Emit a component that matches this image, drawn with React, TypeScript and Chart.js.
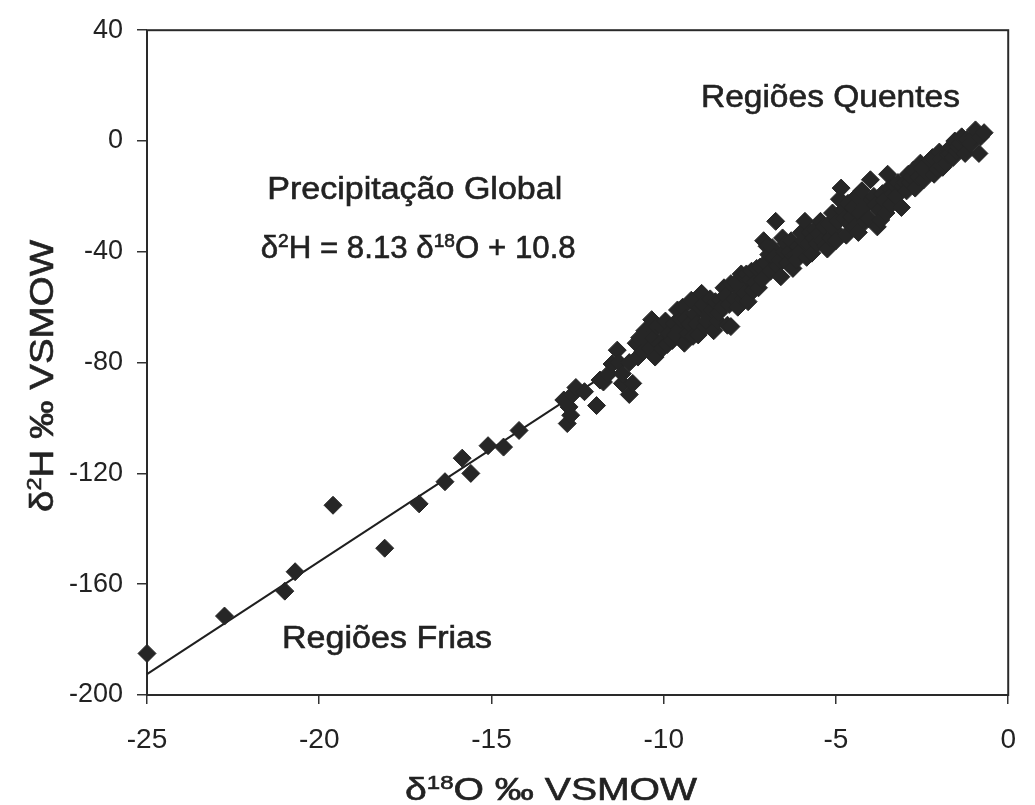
import React, { useEffect, useRef } from "react";
import { Chart, registerables } from "chart.js";

Chart.register(...registerables);

// ---- axis definitions ----
const X_MIN = -25;
const X_MAX = 0;
const X_STEP = 5;
const Y_MIN = -200;
const Y_MAX = 40;
const Y_STEP = 40;

// ---- regression line (from the chart's equation) ----
const LINE_SLOPE = 8.13;
const LINE_INTERCEPT = 10.8;
const LINE_X = [-25, -1];

// ---- data: [δ18O, δ2H] pairs ----
const COLD_POINTS: number[][] = [
  [-25, -185], [-22.75, -171.5], [-21.0, -162.5], [-20.7, -155.5], [-19.6, -131.5],
  [-18.1, -147], [-17.1, -131], [-16.35, -123], [-15.85, -114.5], [-15.6, -120],
  [-15.1, -110], [-14.65, -110.5], [-14.2, -104.5],
];

const MID_POINTS: number[][] = [
  [-12.9, -93.5], [-12.8, -102], [-12.7, -99], [-12.75, -96], [-12.65, -91.5], [-12.55, -89],
  [-12.3, -90.5], [-11.95, -95.5], [-11.75, -87], [-11.85, -86.3], [-11.6, -84], [-11.5, -80.5],
  [-11.35, -75.5], [-11.3, -80], [-11.2, -87.5], [-11.2, -84], [-11.0, -91.5], [-11.0, -80],
  [-10.9, -87.5], [-10.8, -73], [-10.75, -78], [-10.7, -71], [-10.6, -76], [-10.55, -68.5],
  [-10.5, -72], [-10.4, -75], [-10.35, -64.5], [-10.3, -71], [-10.25, -78], [-10.2, -67],
  [-10.1, -73], [-10.05, -75], [-10.0, -68], [-9.95, -65], [-9.9, -73.5], [-9.85, -69.5],
  [-9.75, -72], [-9.7, -66], [-9.65, -70], [-9.6, -61], [-9.55, -68], [-9.5, -64.5],
  [-9.45, -60], [-9.4, -73], [-9.35, -64], [-9.3, -69.5], [-9.25, -66], [-9.2, -57.5],
  [-9.15, -70.5], [-9.1, -62.5], [-9.05, -66], [-9.0, -70],
];

const WARM_POINTS: number[][] = [
  [-8.95, -60], [-8.9, -55], [-8.85, -59], [-8.8, -67], [-8.75, -65], [-8.7, -63],
  [-8.65, -57], [-8.6, -61], [-8.55, -68.5], [-8.5, -58], [-8.45, -65], [-8.4, -62],
  [-8.35, -57.5], [-8.3, -60], [-8.25, -53], [-8.2, -56], [-8.15, -66.5], [-8.1, -59],
  [-8.05, -51.5], [-8.05, -67], [-7.95, -57], [-7.9, -51], [-7.85, -60], [-7.8, -52.5],
  [-7.75, -48], [-7.7, -57], [-7.65, -55], [-7.6, -48], [-7.55, -58], [-7.5, -50],
  [-7.45, -47], [-7.4, -54], [-7.35, -51], [-7.3, -46], [-7.25, -53], [-7.2, -45.5],
  [-7.15, -50], [-7.1, -36], [-7.05, -44], [-7.0, -38], [-6.95, -41], [-6.9, -47],
  [-6.85, -38.5], [-6.8, -42], [-6.75, -29], [-6.7, -45], [-6.65, -43], [-6.6, -49],
  [-6.55, -35], [-6.5, -40], [-6.45, -37], [-6.4, -44], [-6.35, -40], [-6.3, -36],
  [-6.25, -46], [-6.2, -41], [-6.15, -43], [-6.1, -38], [-6.05, -40], [-6.0, -33],
  [-5.95, -36], [-5.9, -29], [-5.85, -42], [-5.8, -37], [-5.75, -33], [-5.7, -40.5],
  [-5.65, -35], [-5.6, -32], [-5.55, -37], [-5.5, -33.5], [-5.45, -29], [-5.4, -36],
  [-5.35, -31], [-5.3, -38], [-5.25, -39], [-5.2, -30], [-5.15, -35], [-5.1, -26],
  [-5.05, -32], [-5.0, -36],
];

const HOT_POINTS: number[][] = [
  [-4.95, -29], [-4.9, -21], [-4.85, -17], [-4.8, -25], [-4.75, -28], [-4.7, -34],
  [-4.65, -22.5], [-4.6, -30], [-4.55, -27.5], [-4.5, -24], [-4.45, -31], [-4.4, -20],
  [-4.35, -33], [-4.3, -26], [-4.25, -18], [-4.2, -24], [-4.15, -29], [-4.1, -22],
  [-4.05, -28], [-4.0, -14], [-3.95, -21], [-3.9, -20], [-3.85, -23], [-3.8, -31],
  [-3.75, -25], [-3.7, -28.5], [-3.65, -19], [-3.6, -21.5], [-3.55, -26], [-3.5, -12],
  [-3.45, -17], [-3.4, -23], [-3.35, -19], [-3.3, -16], [-3.25, -20], [-3.2, -15],
  [-3.1, -24], [-3.05, -16.5], [-3.0, -15], [-2.95, -18], [-2.9, -12], [-2.85, -15],
  [-2.8, -13], [-2.75, -10.5], [-2.7, -17], [-2.6, -13], [-2.55, -8], [-2.5, -10],
  [-2.45, -14], [-2.4, -11], [-2.3, -9], [-2.25, -7], [-2.2, -6], [-2.15, -12],
  [-2.05, -10], [-2.0, -4], [-1.95, -6.5], [-1.9, -9.5], [-1.8, -8], [-1.75, -5],
  [-1.7, -4.5], [-1.65, -2], [-1.6, -6], [-1.55, 0], [-1.5, -3.5], [-1.45, -2],
  [-1.4, -1], [-1.35, 1.5], [-1.25, -4.5], [-1.2, 0.5], [-1.1, -1], [-1.0, 1.5],
  [-0.95, 4], [-0.85, -4.5], [-0.8, 1.5], [-0.7, 3],
];

// ---- texts ----
const LABEL_WARM = "Regiões Quentes";
const LABEL_COLD = "Regiões Frias";
const LABEL_GLOBAL = "Precipitação Global";

const FONT = '"Liberation Sans", Arial, Helvetica, sans-serif';
const INK = "#222222";

type Part = { t: string; sup?: boolean };

function drawRich(
  ctx: CanvasRenderingContext2D,
  parts: Part[],
  size: number,
  targetWidth: number
) {
  const supSize = Math.round(size * 0.62);
  let natural = 0;
  for (const p of parts) {
    ctx.font = `${p.sup ? supSize : size}px ${FONT}`;
    natural += ctx.measureText(p.t).width;
  }
  const sx = targetWidth / natural;
  ctx.scale(sx, 1);
  ctx.strokeStyle = INK;
  ctx.lineWidth = 0.6;
  let x = 0;
  for (const p of parts) {
    ctx.font = `${p.sup ? supSize : size}px ${FONT}`;
    const y = p.sup ? -size * 0.36 : 0;
    ctx.fillText(p.t, x, y);
    ctx.strokeText(p.t, x, y);
    x += ctx.measureText(p.t).width;
  }
}

const textPlugin = {
  id: "isoText",
  beforeDatasetsDraw(chart: any) {
    const { ctx, chartArea } = chart;
    ctx.save();
    ctx.strokeStyle = "#2a2a2a";
    ctx.lineWidth = 2;
    ctx.strokeRect(
      chartArea.left,
      chartArea.top,
      chartArea.right - chartArea.left,
      chartArea.bottom - chartArea.top
    );
    ctx.restore();
  },
  afterDraw(chart: any) {
    const { ctx } = chart;
    const xs = chart.scales.x;
    const ys = chart.scales.y;
    const put = (dx: number, dy: number, parts: Part[], size: number, width: number) => {
      ctx.save();
      ctx.fillStyle = INK;
      ctx.textBaseline = "alphabetic";
      ctx.textAlign = "left";
      ctx.translate(xs.getPixelForValue(dx), ys.getPixelForValue(dy));
      drawRich(ctx, parts, size, width);
      ctx.restore();
    };
    put(-8.92, 12.2, [{ t: LABEL_WARM }], 31, 259);
    put(-21.51, -20.8, [{ t: LABEL_GLOBAL }], 31, 295);
    put(
      -21.7,
      -42.4,
      [
        { t: "δ" },
        { t: "2", sup: true },
        { t: "H = 8.13 δ" },
        { t: "18", sup: true },
        { t: "O + 10.8" },
      ],
      31,
      315
    );
    put(-21.08, -183.0, [{ t: LABEL_COLD }], 31, 210);

    // x axis title
    ctx.save();
    ctx.fillStyle = INK;
    ctx.textBaseline = "alphabetic";
    ctx.textAlign = "left";
    ctx.translate(405, 800);
    drawRich(ctx, [{ t: "δ" }, { t: "18", sup: true }, { t: "O ‰ VSMOW" }], 31, 292);
    ctx.restore();

    // y axis title
    ctx.save();
    ctx.fillStyle = INK;
    ctx.textBaseline = "alphabetic";
    ctx.textAlign = "left";
    ctx.translate(53, 512);
    ctx.rotate(-Math.PI / 2);
    drawRich(ctx, [{ t: "δ" }, { t: "2", sup: true }, { t: "H ‰ VSMOW" }], 33, 272);
    ctx.restore();
  },
};

export default function App() {
  const canvasRef = useRef<HTMLCanvasElement | null>(null);

  useEffect(() => {
    if (!canvasRef.current) return;
    const allPoints = [...COLD_POINTS, ...MID_POINTS, ...WARM_POINTS, ...HOT_POINTS].map(
      (p) => ({ x: p[0], y: p[1] })
    );
    const linePoints = LINE_X.map((x) => ({ x, y: LINE_SLOPE * x + LINE_INTERCEPT }));

    const chart = new Chart(canvasRef.current, {
      type: "scatter",
      data: {
        datasets: [
          {
            label: "Precipitação",
            data: allPoints,
            pointStyle: "rectRot",
            pointRadius: 9,
            pointBorderWidth: 1,
            backgroundColor: "#262626",
            borderColor: "#262626",
            clip: false,
          } as any,
          {
            type: "line",
            label: "Reta",
            data: linePoints,
            borderColor: "#1f1f1f",
            borderWidth: 2,
            pointRadius: 0,
            fill: false,
            showLine: true,
            clip: false,
          } as any,
        ],
      },
      options: {
        animation: false,
        responsive: false,
        events: [],
        layout: { padding: { left: 47, right: 9, top: 30, bottom: 0 } },
        plugins: {
          legend: { display: false },
          tooltip: { enabled: false },
          title: { display: false },
        },
        scales: {
          x: {
            type: "linear",
            min: X_MIN,
            max: X_MAX,
            ticks: {
              stepSize: X_STEP,
              color: INK,
              font: { family: FONT, size: 28 },
              padding: 19,
            },
            grid: {
              drawOnChartArea: false,
              drawTicks: true,
              tickLength: 9,
              color: "#333333",
              lineWidth: 1.5,
            },
            border: { display: false },
            afterFit: (s: any) => {
              s.height = 110;
            },
          },
          y: {
            type: "linear",
            min: Y_MIN,
            max: Y_MAX,
            ticks: {
              stepSize: Y_STEP,
              color: INK,
              font: { family: FONT, size: 27 },
              padding: 14,
            },
            grid: {
              drawOnChartArea: false,
              drawTicks: true,
              tickLength: 10,
              color: "#333333",
              lineWidth: 1.5,
            },
            border: { display: false },
            afterFit: (s: any) => {
              s.width = 100;
            },
          },
        },
      } as any,
      plugins: [textPlugin],
    });
    return () => chart.destroy();
  }, []);

  return (
    <div
      style={{
        position: "absolute",
        left: 0,
        top: 0,
        width: 1035,
        height: 805,
        background: "#ffffff",
      }}
    >
      <canvas ref={canvasRef} width={1035} height={805} style={{ display: "block" }} />
    </div>
  );
}
